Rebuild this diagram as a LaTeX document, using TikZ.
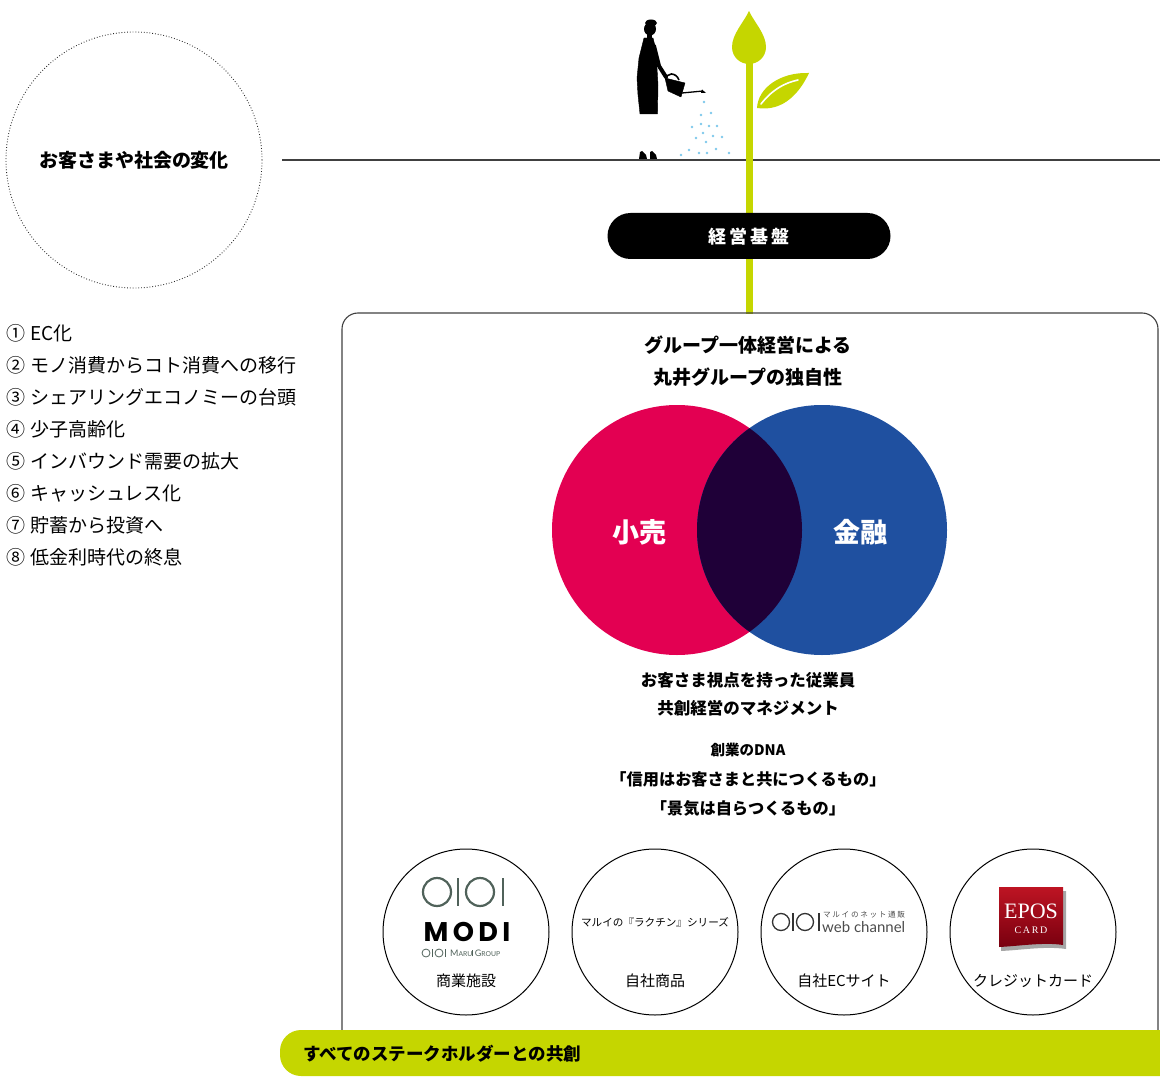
\documentclass[tikz,border=0pt]{standalone}
\usepackage{fontspec}
\setmainfont{Noto Sans CJK JP}
\newfontfamily\jpspaced[LetterSpace=22]{Noto Sans CJK JP}
\newfontfamily\modifont[LetterSpace=16]{Poppins}
\newfontfamily\latinx{Lato}
\newfontfamily\serifx{Liberation Serif}
\definecolor{lime}{RGB}{197,214,0}
\definecolor{retail}{RGB}{227,0,82}
\definecolor{finance}{RGB}{31,80,160}
\definecolor{overlap}{RGB}{31,0,56}
\definecolor{drop}{RGB}{125,200,235}
\definecolor{logogreen}{RGB}{80,98,90}
\definecolor{eposred}{RGB}{190,20,35}
\definecolor{eposdark}{RGB}{120,0,15}
\newcommand{\itemgap}{\hspace{5pt}}
\tikzset{
  jtxt/.style={inner sep=0pt, text height=0.88em, text depth=0.12em},
  % font size plus a shift that centres the CJK glyphs on the node position
  fs/.style={font=\fontsize{#1}{#1}\selectfont, yshift={4-0.42*#1}},
  fsb/.style={font=\bfseries\fontsize{#1}{#1}\selectfont, yshift={4-0.42*#1}},
  ground/.style={draw=black!75, line width=1.4pt},
  stem/.style={draw=lime, line width=7pt},
  pill/.style={fill=black, rounded corners=23pt, minimum width=283pt, minimum height=46pt, inner sep=0pt, text=white},
  frame/.style={draw=black!75, line width=1.1pt, rounded corners=16pt},
  brand/.style={circle, draw=black, line width=1pt, minimum size=166pt, inner sep=0pt},
  listitem/.style={jtxt, anchor=west, fs=19},
  silhouette/.style={fill=black, draw=black, line join=round},
  waterdot/.style={fill=drop},
}
\begin{document}
\begin{tikzpicture}[x=1pt, y=-1pt]
\useasboundingbox (0,0) rectangle (1160,1078);

% --- society changes -------------------------------------------------
\node[circle, draw=black!85, line width=0.9pt, dash pattern=on 0.8pt off 2pt,
      minimum size=256pt, inner sep=0pt] (society) at (134,160) {};
\node[jtxt, fsb=19] (societylbl) at (134,160) {お客さまや社会の変化};

\node[listitem] (l1) at (6,333) {①\itemgap EC化};
\node[listitem] (l2) at (6,365) {②\itemgap モノ消費からコト消費への移行};
\node[listitem] (l3) at (6,397) {③\itemgap シェアリングエコノミーの台頭};
\node[listitem] (l4) at (6,429) {④\itemgap 少子高齢化};
\node[listitem] (l5) at (6,461) {⑤\itemgap インバウンド需要の拡大};
\node[listitem] (l6) at (6,493) {⑥\itemgap キャッシュレス化};
\node[listitem] (l7) at (6,525) {⑦\itemgap 貯蓄から投資へ};
\node[listitem] (l8) at (6,557) {⑧\itemgap 低金利時代の終息};

% --- ground line --------------------------------------------------------
\coordinate (groundL) at (282,160);
\coordinate (groundR) at (1160,160);
\draw[ground] (groundL) -- (groundR);

% --- sprout -------------------------------------------------------------
\coordinate (sprout) at (749,55);
\coordinate (boxtop) at (749,314);
\draw[stem] (sprout) -- (boxtop);
\fill[lime] (749,11) .. controls (744,22) and (732,34) .. (732,47)
  .. controls (732,57) and (740,64) .. (749,64)
  .. controls (758,64) and (766,57) .. (766,47)
  .. controls (766,34) and (754,22) .. (749,11) -- cycle;
\fill[lime] (757,108) .. controls (758,88) and (780,72) .. (809,73)
  .. controls (800,92) and (784,112) .. (757,108) -- cycle;
\draw[white, line width=1.6pt, line cap=round] (761,104) .. controls (772,90) and (784,83) .. (798,80);

% --- gardener -----------------------------------------------------------
\fill[black] (650,29) ellipse[x radius=6pt, y radius=6.5pt];
\fill[black] (651,23) ellipse[x radius=6pt, y radius=3.5pt];
\fill[black] (647,34) rectangle (652,40);
\filldraw[silhouette] (644,38) -- (653,38) -- (656,50) -- (657,68) -- (658,85)
  -- (657.5,114) -- (640,114) -- (638,95) -- (637,78) -- (639,58) -- cycle;
\draw[black, line width=4pt, line cap=round] (654,46) -- (659,66) -- (666,77);
\filldraw[silhouette] (665,78) -- (685,83) -- (681,97) -- (668,91) -- cycle;
\draw[black, line width=1.6pt] (666,80) .. controls (666,72) and (676,72) .. (679,80);
\draw[black, line width=1.3pt] (682,93) -- (703,91);
\fill[black] (702,89.5) -- (706,93) -- (701,93) -- cycle;
\fill[black] (639,159) -- (647,159) -- (646,155) -- (642,151) -- (640,152) -- cycle;
\fill[black] (650,159) -- (657,159) -- (656,155) -- (652,151) -- (650,152) -- cycle;
\foreach \px/\py in {704/102,711/113,701/115,692/127,701/124,709/126,717/126,
    703/133,713/136,722/137,696/138,706/142,689/150,716/149,699/153,707/153,
    729/153,681/155}
  \fill[waterdot] (\px,\py) circle[radius=1.4pt];

% --- foundation pill ----------------------------------------------------
\node[pill] (base) at (749,236) {};
\node[jtxt, fsb=18, text=white] (baselbl) at (749,236) {経\,営\,基\,盤};

% --- group frame --------------------------------------------------------
\draw[frame] (342,1045) -- (342,313) -- (1158,313) -- (1158,1045);

\node[jtxt, fsb=19] (head1) at (748,345) {グループ一体経営による};
\node[jtxt, fsb=19] (head2) at (748,377) {丸井グループの独自性};

% venn diagram
\fill[retail] (677,530) circle[radius=125pt];
\fill[finance] (822,530) circle[radius=125pt];
\begin{scope}
  \clip (677,530) circle[radius=125pt];
  \fill[overlap] (822,530) circle[radius=125pt];
\end{scope}
\node[jtxt, fsb=27, text=white] (retaillbl) at (639,531) {小売};
\node[jtxt, fsb=27, text=white] (financelbl) at (860,531) {金融};

\node[jtxt, fsb=16.5] (t1) at (748,680) {お客さま視点を持った従業員};
\node[jtxt, fsb=16.5] (t2) at (748,708) {共創経営のマネジメント};
\node[jtxt, fsb=14.5] (t3) at (748,750) {創業のDNA};
\node[jtxt, fsb=16.2] (t4) at (748,779) {「信用はお客さまと共につくるもの」};
\node[jtxt, fsb=16.2] (t5) at (748,808) {「景気は自らつくるもの」};

% --- business circles ---------------------------------------------------
\node[brand] (mall) at (466,932) {};
\node[brand] (goods) at (655,932) {};
\node[brand] (ec) at (844,932) {};
\node[brand] (card) at (1033,932) {};

\node[jtxt, fs=15] (malllbl) at (466,980) {商業施設};
\node[jtxt, fs=15] (goodslbl) at (655,980) {自社商品};
\node[jtxt, fs=15] (eclbl) at (844,980) {自社ECサイト};
\node[jtxt, fs=15] (cardlbl) at (1033,980) {クレジットカード};

% mall logo
\begin{scope}[draw=logogreen, line width=2.2pt]
  \draw (437,892) circle[radius=14pt];
  \draw (458,878) -- (458,906);
  \draw (480,892) circle[radius=14pt];
  \draw (503,878) -- (503,906);
\end{scope}
\node[inner sep=0pt, font=\modifont\bfseries\fontsize{27}{27}\selectfont] (modi) at (467,932) {MODI};
\begin{scope}[draw=logogreen, line width=0.8pt]
  \draw (426,953) circle[radius=4pt];
  \draw (432.5,949) -- (432.5,957);
  \draw (439,953) circle[radius=4pt];
  \draw (445.5,949) -- (445.5,957);
\end{scope}
\node[inner sep=0pt, anchor=west, text=logogreen, font=\latinx] (marui) at (450,953)
  {{\fontsize{9}{9}\selectfont M}{\fontsize{6.8}{6.8}\selectfont ARU}\rule{0.8pt}{6pt}\,{\fontsize{9}{9}\selectfont G}{\fontsize{6.8}{6.8}\selectfont ROUP}};

% in-house goods
\node[jtxt, fs=10.6] (rakuchin) at (655,922) {マルイの『ラクチン』シリーズ};

% web channel logo
\begin{scope}[draw=black!80, line width=1.3pt]
  \draw (781,922) circle[radius=8.5pt];
  \draw (793,913) -- (793,931);
  \draw (805,922) circle[radius=8.5pt];
  \draw (819,913) -- (819,931);
\end{scope}
\node[inner sep=0pt, anchor=west, text=black!70, font=\jpspaced\fontsize{7.6}{7.6}\selectfont] (netshop) at (823,915) {マルイのネット通販};
\node[inner sep=0pt, anchor=west, text=black!70, font=\latinx\fontsize{15}{15}\selectfont] (webch) at (822,927) {web channel};

% card logo
\fill[black!35] (1001,891) -- (1066,891) -- (1066,949) .. controls (1045,946) and (1022,950) .. (1001,951) -- cycle;
\shade[top color=eposred, bottom color=eposdark] (999,887) -- (1063,887) -- (1063,945)
  .. controls (1044,942) and (1020,946) .. (999,947) -- cycle;
\node[inner sep=0pt, text=white, font=\serifx\fontsize{22}{22}\selectfont] (epos) at (1031,911) {EPOS};
\node[inner sep=0pt, text=white, font=\serifx\fontsize{10}{10}\selectfont] (cardword) at (1031,930) {C\,A\,R\,D};

% --- stakeholder band ---------------------------------------------------
\node[fill=lime, rounded corners=21pt, minimum width=930pt, minimum height=46pt, inner sep=0pt] (band) at (745,1053) {};
\node[jtxt, fsb=17.5, anchor=west] (bandlbl) at (303,1053) {すべてのステークホルダーとの共創};
\end{tikzpicture}
\end{document}
